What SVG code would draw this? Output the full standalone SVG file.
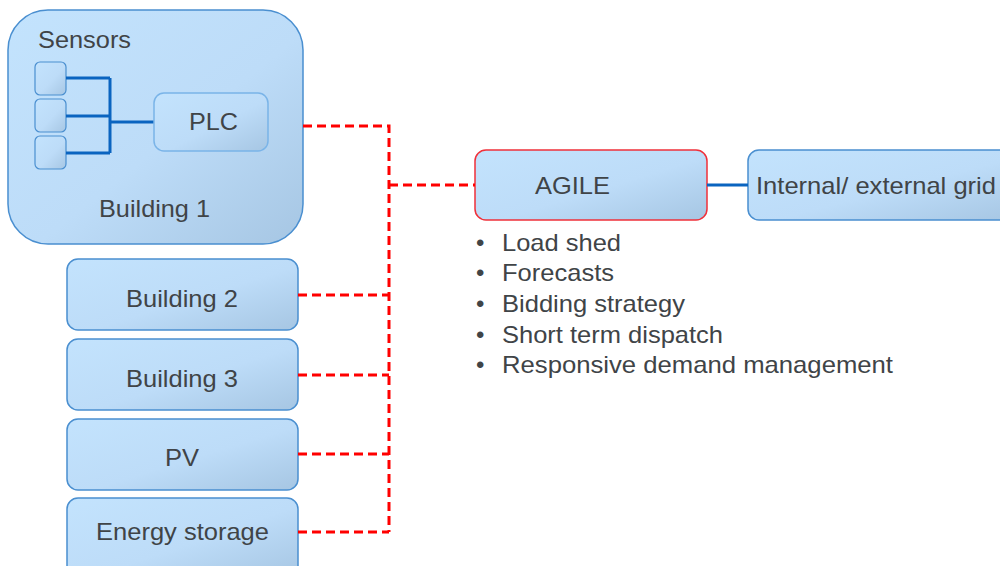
<svg xmlns="http://www.w3.org/2000/svg" width="1000" height="566" viewBox="0 0 1000 566">
<defs>
<linearGradient id="g" x1="0" y1="0" x2="1" y2="1">
<stop offset="0" stop-color="#c3e3fd"/>
<stop offset="0.55" stop-color="#bddcf8"/>
<stop offset="1" stop-color="#a6c6e3"/>
</linearGradient>
</defs>
<style>
.box{fill:url(#g);stroke:#4a8fd0;stroke-width:1.5}
.inner{fill:url(#g);stroke:#7ab4e8;stroke-width:1.5}
.sensor{fill:url(#g);stroke:#4a8fd0;stroke-width:1.2}
.red{fill:url(#g);stroke:#f0303a;stroke-width:1.5}
.t{font-family:"Liberation Sans",Arial,sans-serif;font-size:24px;fill:#404447}
.m{text-anchor:middle}
.dash{fill:none;stroke:#ff0000;stroke-width:3;stroke-dasharray:9,5}
.blue{fill:none;stroke:#0a64c0;stroke-width:3}
</style>
<g id="building1">
<rect class="box" x="8" y="10" width="295" height="234" rx="40"/>
<text class="t" x="38" y="48" textLength="93" lengthAdjust="spacingAndGlyphs">Sensors</text>
<rect class="sensor" x="35" y="62" width="31" height="33" rx="5"/>
<rect class="sensor" x="35" y="99" width="31" height="33" rx="5"/>
<rect class="sensor" x="35" y="136" width="31" height="33" rx="5"/>
<path class="blue" d="M66 78H110M66 116H110M66 153H110M110 78V153M110 122H154"/>
<rect class="inner" x="154" y="93" width="114" height="58" rx="10"/>
<text class="t m" x="213.5" y="130" textLength="49" lengthAdjust="spacingAndGlyphs">PLC</text>
<text class="t m" x="154.5" y="217" textLength="111" lengthAdjust="spacingAndGlyphs">Building 1</text>
</g>
<g id="building2">
<rect class="box" x="67" y="259" width="231" height="71" rx="11"/>
<text class="t m" x="182" y="307" textLength="112" lengthAdjust="spacingAndGlyphs">Building 2</text>
</g>
<g id="building3">
<rect class="box" x="67" y="339" width="231" height="71" rx="11"/>
<text class="t m" x="182" y="387" textLength="112" lengthAdjust="spacingAndGlyphs">Building 3</text>
</g>
<g id="pv">
<rect class="box" x="67" y="419" width="231" height="71" rx="11"/>
<text class="t m" x="182" y="466" textLength="34" lengthAdjust="spacingAndGlyphs">PV</text>
</g>
<g id="storage">
<rect class="box" x="67" y="498" width="231" height="80" rx="11"/>
<text class="t m" x="182.5" y="540" textLength="173" lengthAdjust="spacingAndGlyphs">Energy storage</text>
</g>
<g id="agile">
<rect class="red" x="475" y="150" width="232" height="70" rx="11"/>
<text class="t m" x="572.5" y="194" textLength="75" lengthAdjust="spacingAndGlyphs">AGILE</text>
</g>
<g id="grid">
<rect class="box" x="748" y="150" width="270" height="70" rx="11"/>
<text class="t" x="756" y="194" textLength="240" lengthAdjust="spacingAndGlyphs">Internal/ external grid</text>
</g>
<g id="bullets" class="t">
<text x="476" y="251">•</text><text x="502" y="251" textLength="119" lengthAdjust="spacingAndGlyphs">Load shed</text>
<text x="476" y="281">•</text><text x="502" y="281" textLength="112" lengthAdjust="spacingAndGlyphs">Forecasts</text>
<text x="476" y="312">•</text><text x="502" y="312" textLength="183" lengthAdjust="spacingAndGlyphs">Bidding strategy</text>
<text x="476" y="343">•</text><text x="502" y="343" textLength="221" lengthAdjust="spacingAndGlyphs">Short term dispatch</text>
<text x="476" y="373">•</text><text x="502" y="373" textLength="391" lengthAdjust="spacingAndGlyphs">Responsive demand management</text>
</g>
<g id="connectors">
<path class="dash" d="M303 126H389V532"/>
<path class="dash" d="M389 185H475"/>
<path class="dash" d="M298 295H389"/>
<path class="dash" d="M298 375H389"/>
<path class="dash" d="M298 454H389"/>
<path class="dash" d="M298 532H389"/>
<path class="blue" d="M707 185H748"/>
</g>
</svg>
